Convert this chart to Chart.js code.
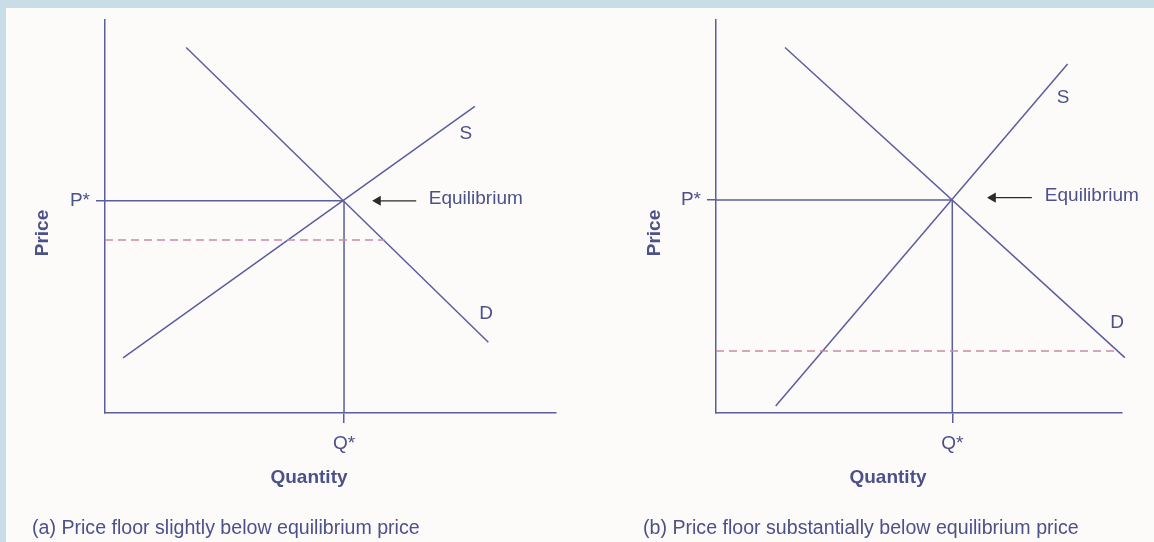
<!DOCTYPE html>
<html>
<head>
<meta charset="utf-8">
<title>Price floors below equilibrium</title>
<script src="https://cdn.jsdelivr.net/npm/chart.js@4.4.0/dist/chart.umd.min.js"></script>
<style>
    html, body { margin: 0; padding: 0; }
    body { width: 1154px; height: 542px; background: #c8dde5; position: relative; overflow: hidden; }
    .panel { position: absolute; left: 6px; top: 8px; right: 0; bottom: 0; background: #fdfafa; }
    .box { position: absolute; top: 0; width: 577px; height: 542px; }
    #boxA { left: 0; }
    #boxB { left: 577px; }
</style>
</head>
<body>
<div class="panel"></div>
<div class="box" id="boxA"><canvas id="chartA" width="577" height="542"></canvas></div>
<div class="box" id="boxB"><canvas id="chartB" width="577" height="542"></canvas></div>

<script>
// Panel (a) - price floor slightly below equilibrium
const demandA = [{ x: 1.8, y: 9.3 }, { x: 8.5, y: 1.8 }];
const supplyA = [{ x: 0.4, y: 1.4 }, { x: 8.2, y: 7.8 }];
const equilibriumA = { x: 5.3, y: 5.4 };
const floorA = [{ x: 0, y: 4.4 }, { x: 6.2, y: 4.4 }];
const arrowA = [{ x: 6.9, y: 5.4 }, { x: 6.05, y: 5.4 }];
const labelsA = [
    { text: 'S', x: 8.0, y: 7.1 },
    { text: 'D', x: 8.45, y: 2.53 },
    { text: 'Equilibrium', x: 7.18, y: 5.45, align: 'left' }
];

// Panel (b) - price floor substantially below equilibrium
const demandB = [{ x: 1.7, y: 9.3 }, { x: 10.07, y: 1.41 }];
const supplyB = [{ x: 1.47, y: 0.18 }, { x: 8.66, y: 8.88 }];
const equilibriumB = { x: 5.82, y: 5.42 };
const floorB = [{ x: 0, y: 1.58 }, { x: 9.9, y: 1.58 }];
const arrowB = [{ x: 7.78, y: 5.48 }, { x: 6.82, y: 5.48 }];
const labelsB = [
    { text: 'S', x: 8.55, y: 8.02 },
    { text: 'D', x: 9.88, y: 2.29 },
    { text: 'Equilibrium', x: 8.1, y: 5.52, align: 'left' }
];

// Tick labels
const priceTick = 'P*';
const quantityTick = 'Q*';

const LINE = '#5a5e9c';
const TEXT = '#4b5189';
const FLOOR = '#c98aa8';
const FONT = '"Liberation Sans", Arial, sans-serif';

// Draws curve labels, axis titles and caption
const notesPlugin = {
    id: 'notes',
    afterDatasetsDraw(chart, args, opts) {
        const ctx = chart.ctx;
        const xs = chart.scales.x;
        const ys = chart.scales.y;
        ctx.save();
        ctx.fillStyle = TEXT;
        ctx.font = '19px ' + FONT;
        ctx.textBaseline = 'middle';
        opts.labels.forEach(l => {
            ctx.textAlign = l.align || 'center';
            ctx.fillText(l.text, xs.getPixelForValue(l.x), ys.getPixelForValue(l.y));
        });

        ctx.font = 'bold 19px ' + FONT;
        ctx.textAlign = 'center';
        ctx.textBaseline = 'alphabetic';
        ctx.fillText('Quantity', opts.quantityTitle.x, opts.quantityTitle.y);

        ctx.save();
        ctx.translate(opts.priceTitle.x, opts.priceTitle.y);
        ctx.rotate(-Math.PI / 2);
        ctx.textBaseline = 'middle';
        ctx.fillText('Price', 0, 0);
        ctx.restore();

        ctx.font = '19.6px ' + FONT;
        ctx.textAlign = 'left';
        ctx.textBaseline = 'alphabetic';
        ctx.fillText(opts.caption, opts.captionPos.x, opts.captionPos.y);
        ctx.restore();
    }
};

function lineSet(points, color, dash) {
    return {
        data: points,
        showLine: true,
        borderColor: color,
        borderWidth: 1.5,
        borderDash: dash || [],
        pointRadius: 0,
        pointHoverRadius: 0,
        clip: false
    };
}

function makeChart(id, cfg) {
    const eq = cfg.equilibrium;
    const arrow = lineSet(cfg.arrow, '#2b2b2b');
    arrow.pointRadius = [0, 4.5];
    arrow.pointStyle = 'triangle';
    arrow.rotation = 270;
    arrow.pointBackgroundColor = '#2b2b2b';
    arrow.pointBorderColor = '#2b2b2b';
    arrow.borderWidth = 1.3;

    return new Chart(document.getElementById(id), {
        type: 'scatter',
        data: {
            datasets: [
                lineSet(cfg.floor, FLOOR, [8, 5]),
                lineSet(cfg.demand, LINE),
                lineSet(cfg.supply, LINE),
                lineSet([{ x: 0, y: eq.y }, eq], LINE),
                lineSet([eq, { x: eq.x, y: 0 }], LINE),
                arrow
            ]
        },
        options: {
            responsive: false,
            animation: false,
            devicePixelRatio: 1,
            layout: { padding: { top: 20, right: cfg.padRight, left: 0, bottom: 0 } },
            plugins: {
                legend: { display: false },
                tooltip: { enabled: false },
                notes: {
                    labels: cfg.labels,
                    caption: cfg.caption,
                    captionPos: cfg.captionPos,
                    quantityTitle: cfg.quantityTitle,
                    priceTitle: cfg.priceTitle
                }
            },
            scales: {
                x: {
                    type: 'linear',
                    min: 0,
                    max: 10,
                    afterFit: scale => { scale.height = 129; },
                    afterBuildTicks: scale => { scale.ticks = [{ value: eq.x }]; },
                    border: { display: true, color: LINE, width: 1.5 },
                    grid: { drawOnChartArea: false, drawTicks: true, tickLength: 10, color: LINE, lineWidth: 1.5 },
                    ticks: {
                        padding: 9,
                        color: TEXT,
                        font: { size: 19, family: FONT },
                        callback: () => quantityTick
                    }
                },
                y: {
                    type: 'linear',
                    min: 0,
                    max: 10,
                    afterFit: scale => { scale.width = cfg.axisLeft; },
                    afterBuildTicks: scale => { scale.ticks = [{ value: eq.y }]; },
                    border: { display: true, color: LINE, width: 1.5 },
                    grid: { drawOnChartArea: false, drawTicks: true, tickLength: 9, color: LINE, lineWidth: 1.5 },
                    ticks: {
                        padding: 6,
                        color: TEXT,
                        font: { size: 19, family: FONT },
                        callback: () => priceTick
                    }
                }
            }
        },
        plugins: [notesPlugin]
    });
}

document.addEventListener('DOMContentLoaded', function() {
    makeChart('chartA', {
        demand: demandA,
        supply: supplyA,
        equilibrium: equilibriumA,
        floor: floorA,
        arrow: arrowA,
        labels: labelsA,
        axisLeft: 105,
        padRight: 21,
        caption: '(a) Price floor slightly below equilibrium price',
        captionPos: { x: 32, y: 534 },
        quantityTitle: { x: 309, y: 483 },
        priceTitle: { x: 42.5, y: 233 }
    });

    makeChart('chartB', {
        demand: demandB,
        supply: supplyB,
        equilibrium: equilibriumB,
        floor: floorB,
        arrow: arrowB,
        labels: labelsB,
        axisLeft: 139,
        padRight: 32,
        caption: '(b) Price floor substantially below equilibrium price',
        captionPos: { x: 66, y: 534 },
        quantityTitle: { x: 311, y: 483 },
        priceTitle: { x: 77.3, y: 233 }
    });
});
</script>
</body>
</html>
